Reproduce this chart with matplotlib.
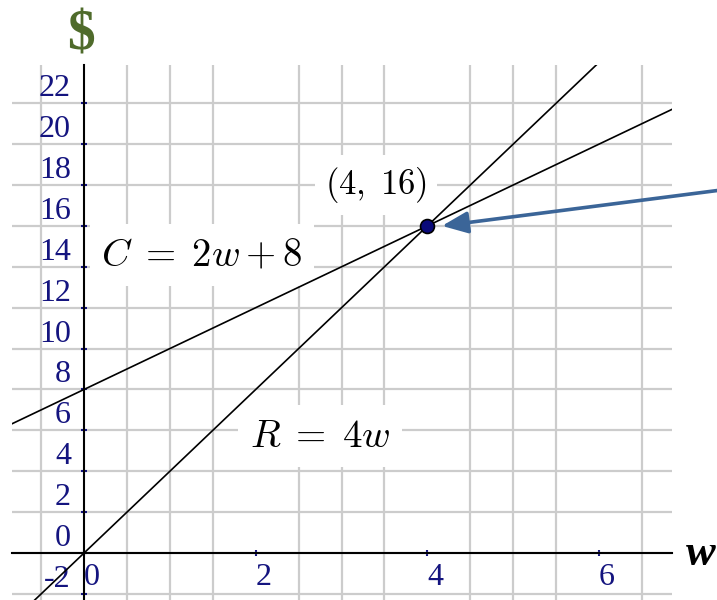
import numpy as np
import matplotlib
matplotlib.use("Agg")
import matplotlib.pyplot as plt
from matplotlib.transforms import ScaledTranslation

# data
w_range = [-0.84, 6.85]
y_range = [-2.3, 23.87]
cost_slope, cost_icept = 2, 8      # C = 2w + 8
rev_slope = 4                      # R = 4w
meet = (4, 16)
x_ticks = [0, 2, 4, 6]
y_ticks = list(range(-2, 23, 2))

plt.rcParams["mathtext.fontset"] = "cm"
plt.rcParams["axes.unicode_minus"] = False
navy = "#14147f"

fig = plt.figure(figsize=(7.17, 6.0), dpi=100)
ax = fig.add_axes([12 / 717, 0, 660 / 717, 535 / 600])
ax.set_xlim(w_range)
ax.set_ylim(y_range)

# grid
ax.set_xticks(np.arange(-0.5, 7.0, 0.5), minor=True)
ax.set_yticks(y_ticks)
ax.set_xticks(x_ticks)
ax.grid(which="minor", axis="x", color="#cccccc", lw=1.6, zorder=0)
ax.grid(which="major", axis="y", color="#cccccc", lw=1.6, zorder=0)
ax.set_axisbelow(True)

# axes through origin
for s in ["top", "right"]:
    ax.spines[s].set_visible(False)
ax.spines["left"].set_position(("data", 0))
ax.spines["bottom"].set_position(("data", 0))
ax.spines["left"].set_linewidth(1.5)
ax.spines["bottom"].set_linewidth(1.5)
ax.tick_params(which="minor", length=0)
ax.tick_params(which="major", direction="inout", length=5, width=1.5, color=navy,
               labelcolor=navy, labelsize=23)
for lab in ax.get_yticklabels():
    lab.set_fontfamily("Liberation Serif")
    lab.set_verticalalignment("bottom")
    lab.set_transform(lab.get_transform() + ScaledTranslation(0, 3 / 72, fig.dpi_scale_trans))
for lab in ax.get_xticklabels():
    lab.set_fontfamily("Liberation Serif")
    lab.set_horizontalalignment("left")
    lab.set_transform(lab.get_transform() + ScaledTranslation(-2 / 72, 0, fig.dpi_scale_trans))
ax.tick_params(axis="y", pad=7)
ax.tick_params(axis="x", pad=5)

# lines
w = np.array(w_range)
ax.plot(w, cost_slope * w + cost_icept, color="black", lw=1.2, zorder=5)
ax.plot(w, rev_slope * w, color="black", lw=1.2, zorder=5)
ax.plot(*meet, "o", ms=10, mfc="#0a0a7a", mec="black", mew=1.2, zorder=7)

# labels
box = dict(boxstyle="square,pad=0.3", fc="white", ec="none")
ax.text(1.375, 14.58, r"$C\;=\;2w+8$", fontsize=28, ha="center", va="center", bbox=box, zorder=4)
ax.text(2.75, 5.72, r"$R\;=\;4w$", fontsize=28, ha="center", va="center", bbox=box, zorder=4)
ax.text(3.40, 18.0, r"$(4,\;16)$", fontsize=25, ha="center", va="center", bbox=box, zorder=4)

ax.annotate("", xy=(4.17, 16.0), xytext=(7.6, 17.85), annotation_clip=False,
            arrowprops=dict(arrowstyle="-|>,head_length=1.3,head_width=0.55", mutation_scale=12,
                            color="#3b6598", lw=2.6, shrinkA=0, shrinkB=0), zorder=6)

fig.text(81 / 717, 1 - 36 / 600, r"\$", fontsize=40, family="Liberation Serif", weight="bold",
         color="#4f6b2b", ha="center", va="center")
fig.text(686 / 717, 1 - 565 / 600, "w", fontsize=32, family="Liberation Serif", weight="bold",
         style="italic", ha="left", va="baseline")

fig.savefig("out.png", dpi=100)
